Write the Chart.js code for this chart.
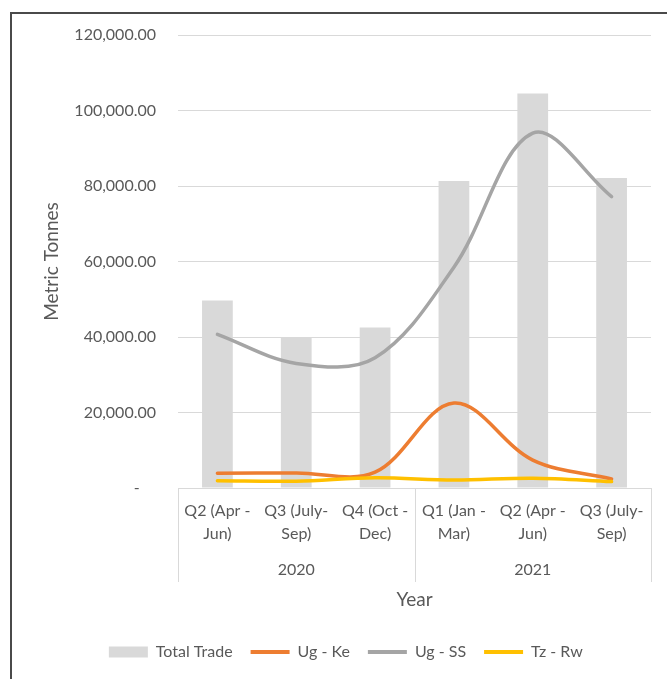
<!DOCTYPE html>
<html>
<head>
<meta charset="utf-8">
<script src="https://cdn.jsdelivr.net/npm/chart.js@4.4.1/dist/chart.umd.min.js"></script>
<style>
  html, body { margin: 0; padding: 0; background: #ffffff; }
  #wrap { position: relative; width: 667px; height: 679px; overflow: hidden; }
  #frame { position: absolute; left: 10px; top: 12px; width: 700px; height: 700px;
           border-top: 2px solid #4a4a4a; border-left: 2px solid #4a4a4a; box-sizing: border-box; }
  #c { position: absolute; left: 0; top: 0; }
</style>
</head>
<body>
<div id="wrap">
  <div id="frame"></div>
  <canvas id="c" width="667" height="679"></canvas>
</div>
<script>
// ---- Data ----
const quarterLabels = [
  ["Q2 (Apr -", "Jun)"],
  ["Q3 (July-", "Sep)"],
  ["Q4 (Oct -", "Dec)"],
  ["Q1 (Jan -", "Mar)"],
  ["Q2 (Apr -", "Jun)"],
  ["Q3 (July-", "Sep)"]
];
const yearLabels = ["2020", "2021"];
const totalTrade = [49700, 39800, 42500, 81300, 104500, 82100];
const ugKe = [3900, 4000, 4200, 22500, 7400, 2400];
const ugSS = [40700, 33000, 34500, 58500, 94000, 77200];
const tzRw = [1900, 1800, 2700, 2100, 2600, 1700];
const seriesNames = ["Total Trade", "Ug - Ke", "Ug - SS", "Tz - Rw"];
const yTicks = { min: 0, max: 120000, step: 20000 };

const FONT = "Lato, 'Liberation Sans', sans-serif";
const TXT = "#595959";
const PAD_L = 40.6;

const groupDividers = {
  id: 'groupDividers',
  afterDraw(chart) {
    const x = chart.scales.x, x2 = chart.scales.x2;
    const ctx = chart.ctx;
    const n = quarterLabels.length;
    const w = (x.right - x.left) / n;
    ctx.save();
    ctx.strokeStyle = '#d9d9d9';
    ctx.lineWidth = 1;
    [0, 3, 6].forEach(i => {
      const px = Math.round(x.left + i * w) + 0.5;
      ctx.beginPath();
      ctx.moveTo(px, x.top);
      ctx.lineTo(px, x2.top + 34);
      ctx.stroke();
    });
    ctx.restore();
  }
};

new Chart(document.getElementById('c'), {
  data: {
    labels: quarterLabels,
    datasets: [
      { type: 'bar', label: seriesNames[0], data: totalTrade, backgroundColor: '#d9d9d9',
        borderWidth: 0, categoryPercentage: 0.39, barPercentage: 1, order: 3 },
      { type: 'line', label: seriesNames[1], data: ugKe, borderColor: '#ed7d31', backgroundColor: '#ed7d31',
        borderWidth: 3.5, pointRadius: 0, tension: 0.35, borderCapStyle: 'round', order: 2 },
      { type: 'line', label: seriesNames[2], data: ugSS, borderColor: '#a5a5a5', backgroundColor: '#a5a5a5',
        borderWidth: 3.5, pointRadius: 0, tension: 0.35, borderCapStyle: 'round', order: 1 },
      { type: 'line', label: seriesNames[3], data: tzRw, borderColor: '#ffc000', backgroundColor: '#ffc000',
        borderWidth: 3.5, pointRadius: 0, tension: 0.35, borderCapStyle: 'round', order: 0 }
    ]
  },
  options: {
    responsive: false,
    animation: false,
    layout: { padding: { left: PAD_L, right: 16, top: 35, bottom: 9 } },
    scales: {
      y: {
        min: yTicks.min, max: yTicks.max,
        afterFit(scale) { scale.width = 178 - PAD_L; },
        ticks: {
          stepSize: yTicks.step, padding: 22, color: TXT,
          font: { family: FONT, size: 16 },
          callback: v => v === 0 ? '-    ' : v.toLocaleString('en-US', { minimumFractionDigits: 2, maximumFractionDigits: 2 })
        },
        grid: { color: '#d9d9d9', drawTicks: false, lineWidth: 1 },
        border: { display: false },
        title: { display: true, text: 'Metric Tonnes', color: TXT, padding: 0,
                 font: { family: FONT, size: 19 } }
      },
      x: {
        type: 'category',
        offset: true,
        afterFit(scale) { scale.height = 60; },
        grid: { display: false, drawTicks: false },
        border: { display: true, color: '#d9d9d9' },
        ticks: { color: TXT, padding: 11.5, autoSkip: false, maxRotation: 0,
                 font: { family: FONT, size: 16, lineHeight: 1.44 } }
      },
      x2: {
        type: 'category',
        position: 'bottom',
        labels: yearLabels,
        offset: true,
        afterFit(scale) { scale.height = 78; },
        grid: { display: false, drawTicks: false },
        border: { display: false },
        ticks: { color: TXT, padding: 10.5, font: { family: FONT, size: 16, lineHeight: 1.44 } },
        title: { display: true, text: 'Year', color: TXT, padding: { top: 0, bottom: 14.6 },
                 font: { family: FONT, size: 19 } }
      }
    },
    plugins: {
      tooltip: { enabled: false },
      legend: {
        position: 'bottom',
        labels: {
          color: TXT,
          font: { family: FONT, size: 16 },
          usePointStyle: true,
          pointStyleWidth: 39,
          boxHeight: 11,
          padding: 18,
          sort: (a, b) => a.datasetIndex - b.datasetIndex,
          generateLabels(chart) {
            const items = Chart.defaults.plugins.legend.labels.generateLabels(chart);
            items.forEach(it => {
              if (it.datasetIndex === 0) { it.pointStyle = 'rect'; it.lineWidth = 0; }
              else { it.pointStyle = 'line'; it.lineWidth = 4; }
            });
            return items;
          }
        }
      }
    }
  },
  plugins: [groupDividers]
});
</script>
</body>
</html>
